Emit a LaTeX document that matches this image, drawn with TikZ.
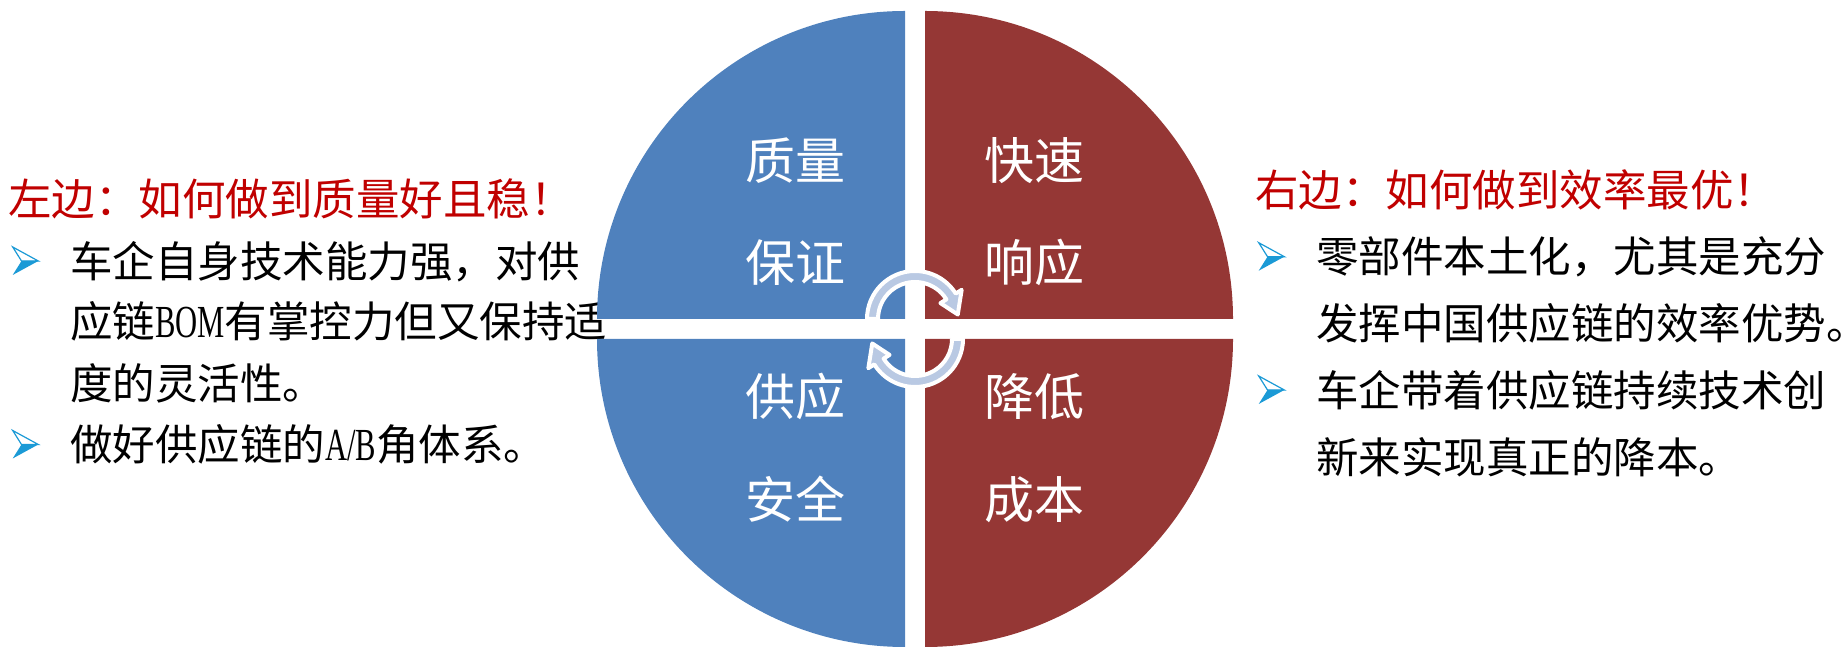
\documentclass[tikz,border=0pt]{standalone}
\usepackage{fontspec}
\usepackage{graphicx}
\setmainfont{Noto Sans CJK SC}
\newfontfamily\cjkfont{Noto Sans CJK SC}
\newfontfamily\latinserif{Liberation Serif}
\definecolor{qblue}{HTML}{4F81BD}
\definecolor{qred}{HTML}{953735}
\definecolor{arrowfill}{HTML}{B9C9E3}
\definecolor{titlered}{HTML}{C00000}
\definecolor{bulblue}{HTML}{1B9AD6}
\newcommand\narrowlatin[1]{\scalebox{0.72}[1.08]{\latinserif #1}}
\begin{document}
\begin{tikzpicture}[x=1pt,y=1pt,
  quadlabel/.style={text=white, font=\cjkfont\fontsize{50}{50}\selectfont, inner sep=0pt, anchor=base},
  bodytext/.style={text=black, font=\cjkfont\fontsize{42.5}{42.5}\selectfont, inner sep=0pt, anchor=base west},
  titletext/.style={text=titlered, font=\cjkfont\fontsize{43.5}{43.5}\selectfont, inner sep=0pt, anchor=base west},
  cyclearrow/.style={fill=arrowfill, draw=white, line width=4pt, line join=round},
  bulletarrow/.pic={
    \filldraw[draw=bulblue, fill=white, line width=1.2pt, line join=miter] (-12.8,14) -- (12.8,0) -- (-4,0) -- cycle;
    \fill[bulblue] (-4,0) -- (12.8,0) -- (-12.8,-14) -- cycle;
  }
]
\path[use as bounding box] (0,0) rectangle (1846,647);
\clip (0,0) rectangle (1846,647);

% left text
\node[titletext] (ltitle) at (8,431) {左边：如何做到质量好且稳！};
\pic at (25.5,386) {bulletarrow};
\node[bodytext] (l1) at (70,369) {车企自身技术能力强，对供};
\node[bodytext] (l2) at (70,309) {应链\narrowlatin{BOM}有掌控力但又保持适};
\node[bodytext] (l3) at (70,247) {度的灵活性。};
\pic at (25.5,202.5) {bulletarrow};
\node[bodytext] (l4) at (70,186) {做好供应链的\narrowlatin{A/B}角体系。};

% right text
\node[titletext] (rtitle) at (1255,440) {右边：如何做到效率最优！};
\pic at (1271.5,390.3) {bulletarrow};
\node[bodytext] (r1) at (1316,374) {零部件本土化，尤其是充分};
\node[bodytext] (r2) at (1316,307) {发挥中国供应链的效率优势。};
\pic at (1271.5,257) {bulletarrow};
\node[bodytext] (r3) at (1316,240) {车企带着供应链持续技术创};
\node[bodytext] (r4) at (1316,173) {新来实现真正的降本。};

% quadrants
\fill[qblue] (905,328) -- ++(-308,0) arc[start angle=180, end angle=90, radius=308] -- cycle;
\fill[qred] (925,328) -- ++(0,308) arc[start angle=90, end angle=0, radius=308] -- cycle;
\fill[qblue] (905,308) -- ++(0,-308) arc[start angle=270, end angle=180, radius=308] -- cycle;
\fill[qred] (925,308) -- ++(308,0) arc[start angle=0, end angle=-90, radius=308] -- cycle;

% quadrant labels
\node[quadlabel] (q1a) at (795.5,467.5) {质量};
\node[quadlabel] (q1b) at (795.5,365) {保证};
\node[quadlabel] (q3a) at (795.5,231) {供应};
\node[quadlabel] (q3b) at (795.5,128) {安全};
\node[quadlabel] (q2a) at (1034.5,467.5) {快速};
\node[quadlabel] (q2b) at (1034.5,365) {响应};
\node[quadlabel] (q4a) at (1034.5,231) {降低};
\node[quadlabel] (q4b) at (1034.5,128) {成本};

% cycle arrows
\begin{scope}[shift={(915,328)}]
\path[cyclearrow] (180:48) arc[start angle=180, end angle=32, radius=48] -- (32:55) -- (6:43) -- (32:30) -- (32:37) arc[start angle=32, end angle=180, radius=37] -- cycle;
\end{scope}
\begin{scope}[shift={(915,308)}, rotate=180]
\path[cyclearrow] (180:48) arc[start angle=180, end angle=32, radius=48] -- (32:55) -- (6:43) -- (32:30) -- (32:37) arc[start angle=32, end angle=180, radius=37] -- cycle;
\end{scope}
\end{tikzpicture}
\end{document}
